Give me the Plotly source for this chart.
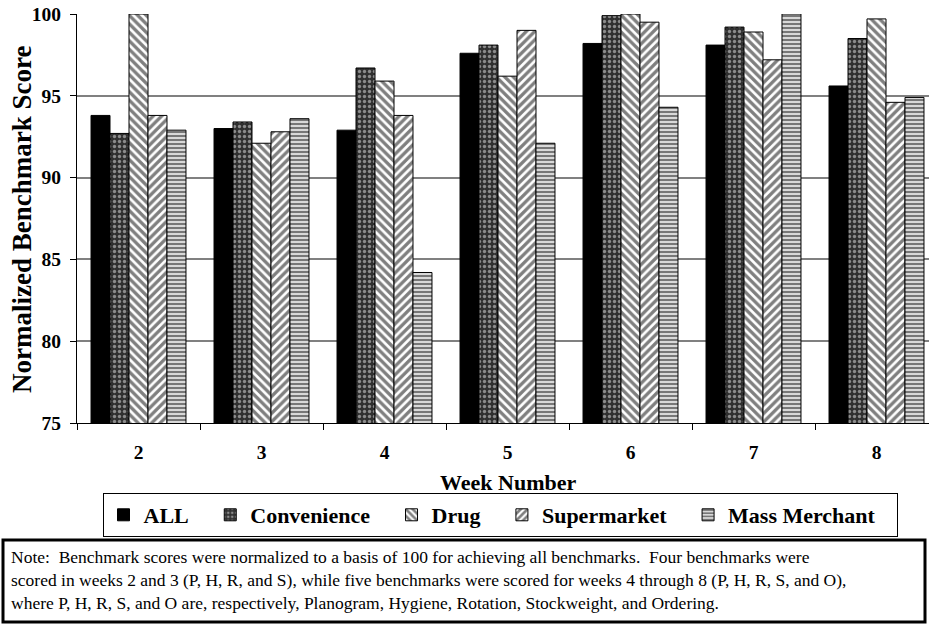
import plotly.graph_objects as go

weeks = ["2", "3", "4", "5", "6", "7", "8"]
series_names = ["ALL", "Convenience", "Drug", "Supermarket", "Mass Merchant"]
all_vals = [93.8, 93.0, 92.9, 97.6, 98.2, 98.1, 95.6]
convenience_vals = [92.7, 93.4, 96.7, 98.1, 99.9, 99.2, 98.5]
drug_vals = [100.0, 92.1, 95.9, 96.2, 100.0, 98.9, 99.7]
supermarket_vals = [93.8, 92.8, 93.8, 99.0, 99.5, 97.2, 94.6]
mass_vals = [92.9, 93.6, 84.2, 92.1, 94.3, 100.0, 94.9]

note_lines = [
    "Note:\u00a0 Benchmark scores were normalized to a basis of 100 for achieving all benchmarks.\u00a0 Four benchmarks were",
    "scored in weeks 2 and 3 (P, H, R, and S), while five benchmarks were scored for weeks 4 through 8 (P, H, R, S, and O),",
    "where P, H, R, S, and O are, respectively, Planogram, Hygiene, Rotation, Stockweight, and Ordering.",
]

W, H = 929, 624
L, T = 77, 14
PLOT_BOTTOM = 423
CAT_W = 123.0
plot_w = W - L
plot_h = PLOT_BOTTOM - T

def px_x(px):
    return (px - L) / plot_w

def px_y(py):
    return (PLOT_BOTTOM - py) / plot_h

FONT = "Liberation Serif, Times New Roman, serif"
PAD = "\u00a0\u00a0\u00a0"

patterns = [
    None,
    dict(shape=".", bgcolor="#303030", fgcolor="#e8e8e8", size=5, solidity=0.35),
    dict(shape="\\", bgcolor="white", fgcolor="black", size=6, solidity=0.55),
    dict(shape="/", bgcolor="white", fgcolor="black", size=6, solidity=0.55),
    dict(shape="-", bgcolor="#d8d8d8", fgcolor="black", size=4, solidity=0.45),
]
colors = ["black", "#303030", "white", "white", "#d8d8d8"]
data = [all_vals, convenience_vals, drug_vals, supermarket_vals, mass_vals]

fig = go.Figure()
for name, vals, pat, col in zip(series_names, data, patterns, colors):
    marker = dict(color=col, line=dict(color="black", width=1))
    if pat:
        marker["pattern"] = pat
    fig.add_trace(go.Bar(x=weeks, y=vals, name=name + PAD, marker=marker))

fig.update_layout(
    width=W, height=H,
    margin=dict(l=L, r=0, t=T, b=H - PLOT_BOTTOM, pad=0, autoexpand=False),
    paper_bgcolor="white", plot_bgcolor="white",
    barmode="group", bargap=0.228, bargroupgap=0,
    font=dict(family=FONT, color="black"),
    showlegend=True,
    legend=dict(
        orientation="h", x=px_x(500), xanchor="center", y=px_y(493), yanchor="top",
        bordercolor="black", borderwidth=1, bgcolor="white",
        font=dict(family=FONT, size=22, color="black", weight="bold"),
        traceorder="normal",
    ),
)
fig.update_xaxes(
    type="category", range=[-0.5, -0.5 + plot_w / CAT_W], automargin=False,
    showline=True, linecolor="black", linewidth=1,
    ticks="outside", tickson="boundaries", ticklen=6, tickcolor="black",
    tickfont=dict(family=FONT, size=19.5, color="black", weight="bold"),
    ticklabelstandoff=12, showgrid=False, fixedrange=True,
)
fig.update_yaxes(
    range=[75, 100], dtick=5, tick0=75, automargin=False,
    showline=True, linecolor="black", linewidth=1,
    ticks="outside", ticklen=6, tickcolor="black",
    tickfont=dict(family=FONT, size=19.5, color="black", weight="bold"),
    ticklabelstandoff=5,
    showgrid=True, gridcolor="#808080", gridwidth=1.5,
    zeroline=False, fixedrange=True,
)

annotations = [
    dict(text="Normalized Benchmark Score", textangle=-90, x=px_x(22), y=px_y(220),
         xref="paper", yref="paper", showarrow=False, xanchor="center", yanchor="middle",
         font=dict(family=FONT, size=27, color="black", weight="bold")),
    dict(text="Week Number", x=px_x(508), y=px_y(482),
         xref="paper", yref="paper", showarrow=False, xanchor="center", yanchor="middle",
         font=dict(family=FONT, size=22, color="black", weight="bold")),
    dict(text="<br>".join(note_lines), x=px_x(9), y=px_y(545), align="left",
         xref="paper", yref="paper", showarrow=False, xanchor="left", yanchor="top",
         font=dict(family=FONT, size=17.5, color="black")),
]
fig.update_layout(annotations=annotations)
fig.add_shape(type="rect", xref="paper", yref="paper",
              x0=px_x(3), x1=px_x(925), y0=px_y(622), y1=px_y(540),
              line=dict(color="black", width=3), fillcolor="rgba(0,0,0,0)")

fig.write_html(
    "out.html",
    config={"displayModeBar": False},
    post_script="document.body.style.margin='0px';document.body.style.overflow='hidden';",
)
